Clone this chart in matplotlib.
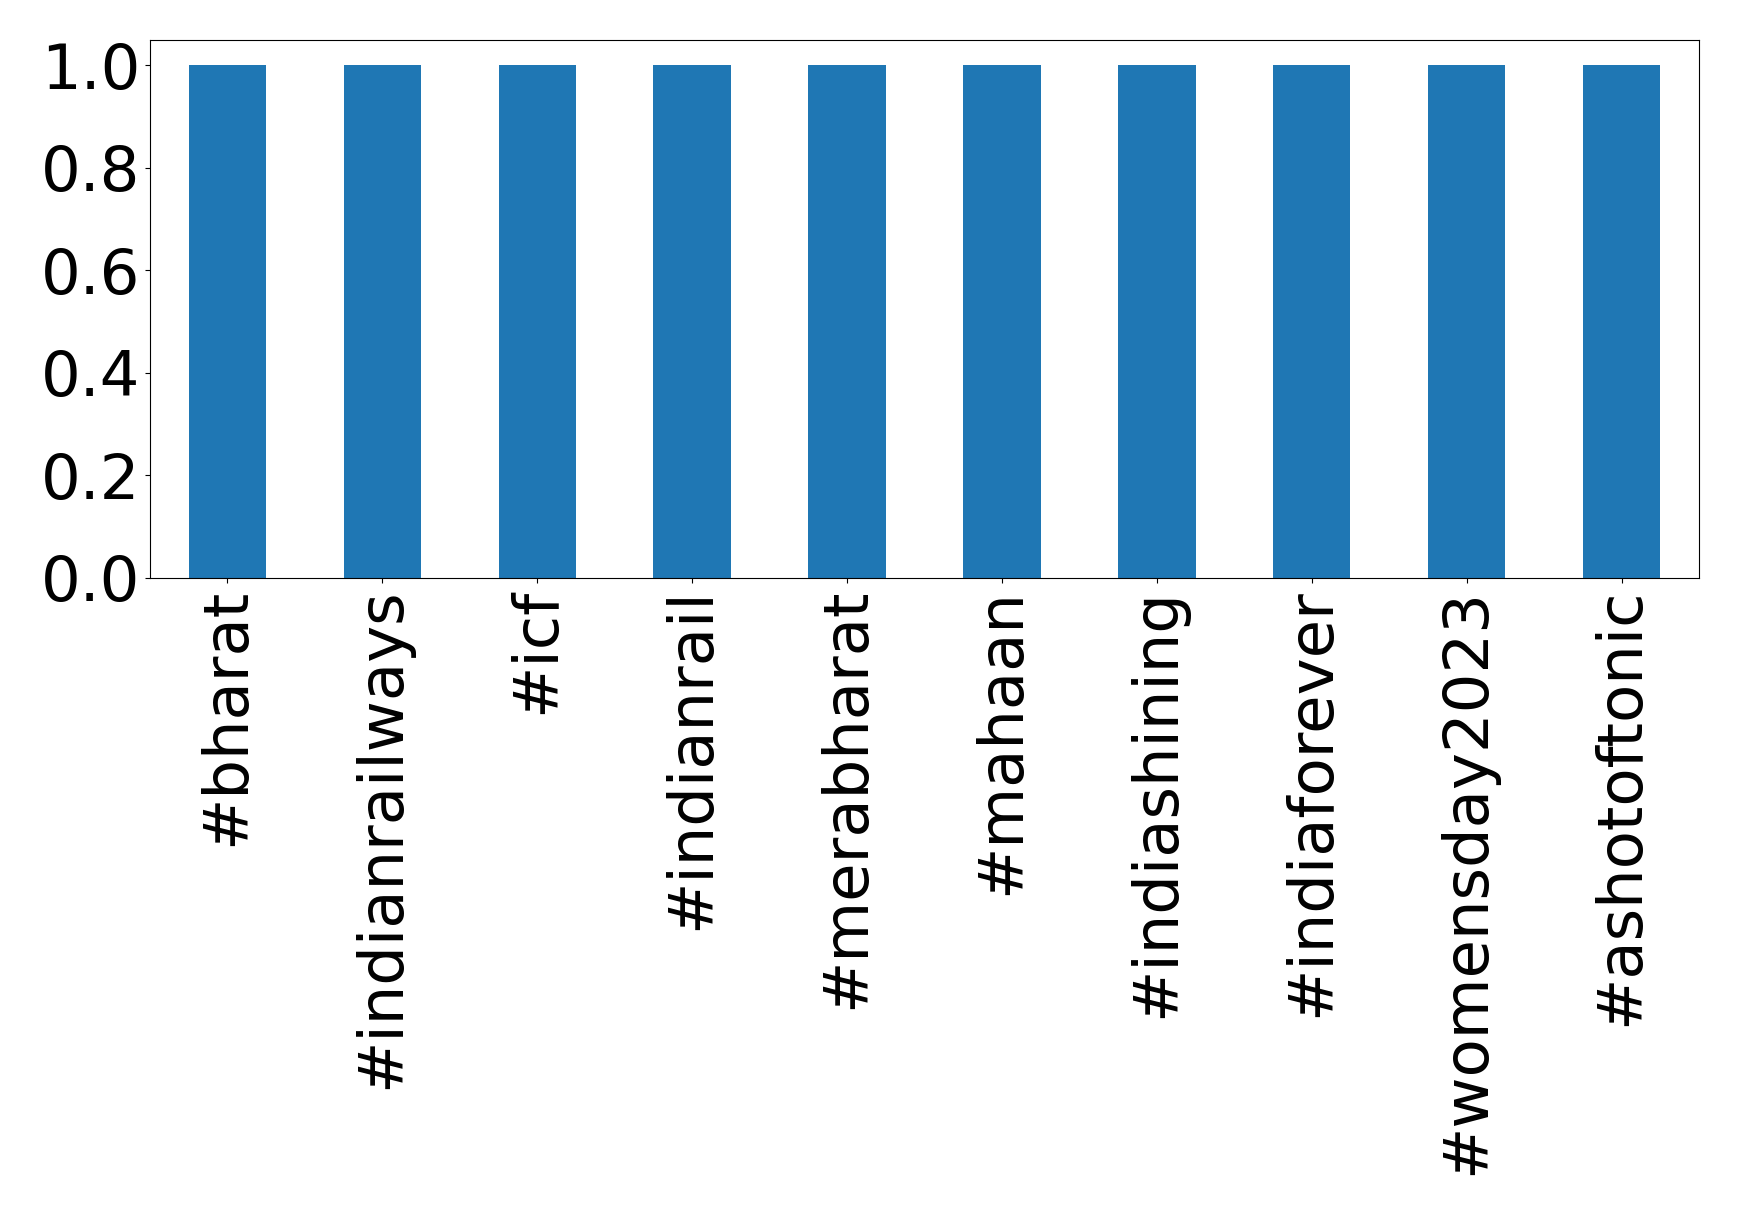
import matplotlib
matplotlib.use("Agg")
import matplotlib.pyplot as plt
import numpy as np

hashtags = ["#bharat", "#indianrailways", "#icf", "#indianrail", "#merabharat",
            "#mahaan", "#indiashining", "#indiaforever", "#womensday2023", "#ashotoftonic"]
counts = [1, 1, 1, 1, 1, 1, 1, 1, 1, 1]

fig = plt.figure(figsize=(17.39, 12.15), dpi=100)
ax = fig.add_axes([150 / 1739, 1 - 578 / 1215, (1699 - 150) / 1739, (578 - 39.5) / 1215])

x = np.arange(len(hashtags))
ax.bar(x, counts, width=0.5, color="#1f77b4")
ax.set_xlim(-0.5, len(hashtags) - 0.5)
ax.set_ylim(0, 1.05)
ax.set_xticks(x)
ax.set_xticklabels(hashtags, rotation=90, fontsize=45)
ax.set_yticks([0, 0.2, 0.4, 0.6, 0.8, 1.0])
ax.set_yticklabels(["0.0", "0.2", "0.4", "0.6", "0.8", "1.0"], fontsize=45)

fig.savefig("out.png", dpi=100)
